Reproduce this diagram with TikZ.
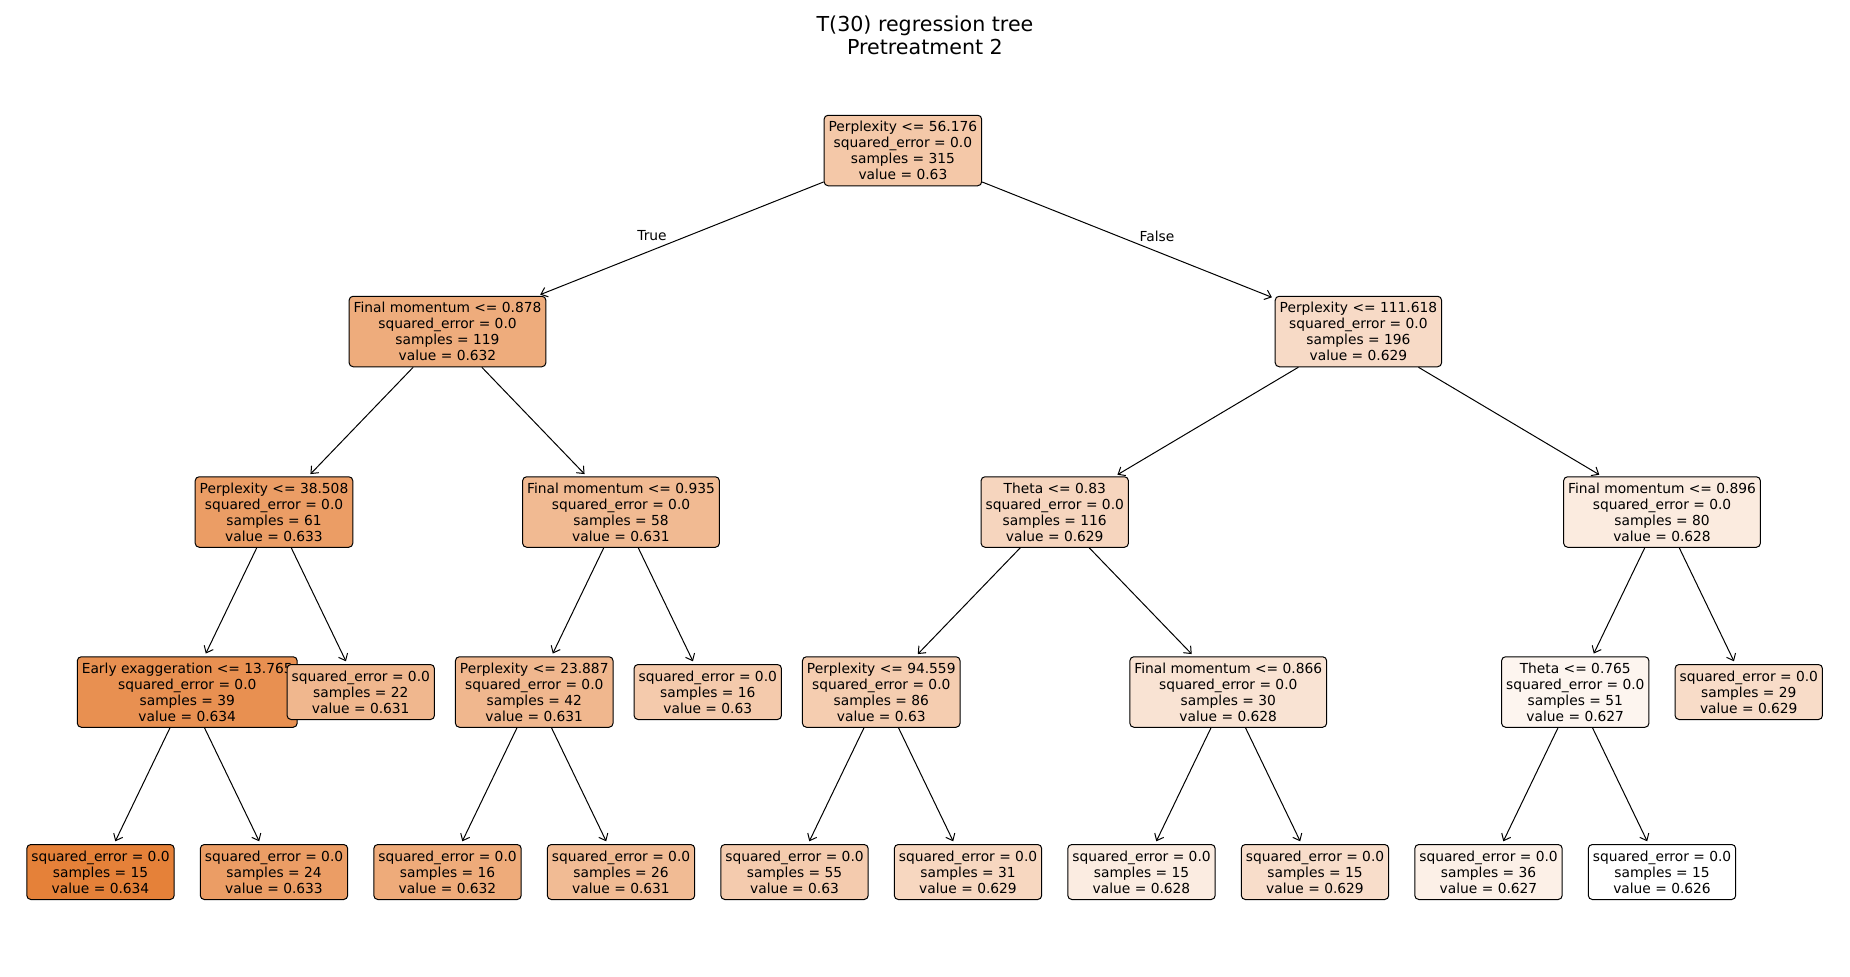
\documentclass[tikz,border=0pt]{standalone}
\usepackage{fontspec}
\setmainfont{DejaVu Sans}
\usetikzlibrary{arrows.meta}
\newcommand\boxfont{\fontsize{13.8}{16}\selectfont}
\newcommand\titlefont{\fontsize{20.6}{23}\selectfont}
\definecolor{treeorange}{RGB}{229,129,57}
\tikzset{
  split/.style={draw=black, line width=1pt, rounded corners=4pt, align=center,
    inner xsep=4.5pt, inner ysep=2pt, font=\boxfont, minimum height=70.5pt},
  leafbox/.style={split, minimum height=55pt},
  link/.style={-{Straight Barb[length=6pt,width=10pt]}, line width=1pt, shorten >=3pt},
}
\begin{document}
\begin{tikzpicture}[x=1pt, y=-1pt]
\useasboundingbox (0,0) rectangle (1850,977);
\fill[white] (0,0) rectangle (1850,977);

\node[font=\titlefont, align=center] (title) at (925,35) {T(30) regression tree\\Pretreatment 2};

% depth 0 / 1
\node[split, fill=treeorange!44!white] (n0) at (902.9,150.5)
  {Perplexity <= 56.176\\squared\_error = 0.0\\samples = 315\\value = 0.63};
\node[split, fill=treeorange!66!white] (n1) at (447.5,331.5)
  {Final momentum <= 0.878\\squared\_error = 0.0\\samples = 119\\value = 0.632};
\node[split, fill=treeorange!29!white] (n2) at (1358.4,331.5)
  {Perplexity <= 111.618\\squared\_error = 0.0\\samples = 196\\value = 0.629};

% depth 2
\node[split, fill=treeorange!78!white] (n3) at (274,512)
  {Perplexity <= 38.508\\squared\_error = 0.0\\samples = 61\\value = 0.633};
\node[split, fill=treeorange!55!white] (n4) at (621,512)
  {Final momentum <= 0.935\\squared\_error = 0.0\\samples = 58\\value = 0.631};
\node[split, fill=treeorange!33!white] (n5) at (1054.75,512)
  {Theta <= 0.83\\squared\_error = 0.0\\samples = 116\\value = 0.629};
\node[split, fill=treeorange!16!white] (n6) at (1662,512)
  {Final momentum <= 0.896\\squared\_error = 0.0\\samples = 80\\value = 0.628};

% depth 3
\node[split, fill=treeorange!88!white] (n7) at (187.25,692)
  {Early exaggeration <= 13.765\\squared\_error = 0.0\\samples = 39\\value = 0.634};
\node[leafbox, fill=treeorange!57!white] (n8) at (360.75,692)
  {squared\_error = 0.0\\samples = 22\\value = 0.631};
\node[split, fill=treeorange!57!white] (n9) at (534.25,692)
  {Perplexity <= 23.887\\squared\_error = 0.0\\samples = 42\\value = 0.631};
\node[leafbox, fill=treeorange!42!white] (n10) at (707.75,692)
  {squared\_error = 0.0\\samples = 16\\value = 0.63};
\node[split, fill=treeorange!40!white] (n11) at (881.25,692)
  {Perplexity <= 94.559\\squared\_error = 0.0\\samples = 86\\value = 0.63};
\node[split, fill=treeorange!22!white] (n12) at (1228.25,692)
  {Final momentum <= 0.866\\squared\_error = 0.0\\samples = 30\\value = 0.628};
\node[split, fill=treeorange!8!white] (n13) at (1575.25,692)
  {Theta <= 0.765\\squared\_error = 0.0\\samples = 51\\value = 0.627};
\node[leafbox, fill=treeorange!28!white] (n14) at (1748.75,692)
  {squared\_error = 0.0\\samples = 29\\value = 0.629};

% depth 4 leaves
\node[leafbox, fill=treeorange!100!white] (n15) at (100.5,872)
  {squared\_error = 0.0\\samples = 15\\value = 0.634};
\node[leafbox, fill=treeorange!78!white] (n16) at (274,872)
  {squared\_error = 0.0\\samples = 24\\value = 0.633};
\node[leafbox, fill=treeorange!67!white] (n17) at (447.5,872)
  {squared\_error = 0.0\\samples = 16\\value = 0.632};
\node[leafbox, fill=treeorange!54!white] (n18) at (621,872)
  {squared\_error = 0.0\\samples = 26\\value = 0.631};
\node[leafbox, fill=treeorange!41!white] (n19) at (794.5,872)
  {squared\_error = 0.0\\samples = 55\\value = 0.63};
\node[leafbox, fill=treeorange!32!white] (n20) at (968,872)
  {squared\_error = 0.0\\samples = 31\\value = 0.629};
\node[leafbox, fill=treeorange!15!white] (n21) at (1141.5,872)
  {squared\_error = 0.0\\samples = 15\\value = 0.628};
\node[leafbox, fill=treeorange!27!white] (n22) at (1315,872)
  {squared\_error = 0.0\\samples = 15\\value = 0.629};
\node[leafbox, fill=treeorange!12!white] (n23) at (1488.5,872)
  {squared\_error = 0.0\\samples = 36\\value = 0.627};
\node[leafbox, fill=white] (n24) at (1662,872)
  {squared\_error = 0.0\\samples = 15\\value = 0.626};

% branches
\draw[link] (n0) -- (n1);
\draw[link] (n0) -- (n2);
\draw[link] (n1) -- (n3);
\draw[link] (n1) -- (n4);
\draw[link] (n2) -- (n5);
\draw[link] (n2) -- (n6);
\draw[link] (n3) -- (n7);
\draw[link] (n3) -- (n8);
\draw[link] (n4) -- (n9);
\draw[link] (n4) -- (n10);
\draw[link] (n5) -- (n11);
\draw[link] (n5) -- (n12);
\draw[link] (n6) -- (n13);
\draw[link] (n6) -- (n14);
\draw[link] (n7) -- (n15);
\draw[link] (n7) -- (n16);
\draw[link] (n9) -- (n17);
\draw[link] (n9) -- (n18);
\draw[link] (n11) -- (n19);
\draw[link] (n11) -- (n20);
\draw[link] (n12) -- (n21);
\draw[link] (n12) -- (n22);
\draw[link] (n13) -- (n23);
\draw[link] (n13) -- (n24);

\node[font=\boxfont] (truelbl) at (652,236) {True};
\node[font=\boxfont] (falselbl) at (1157,236) {False};
\end{tikzpicture}
\end{document}
